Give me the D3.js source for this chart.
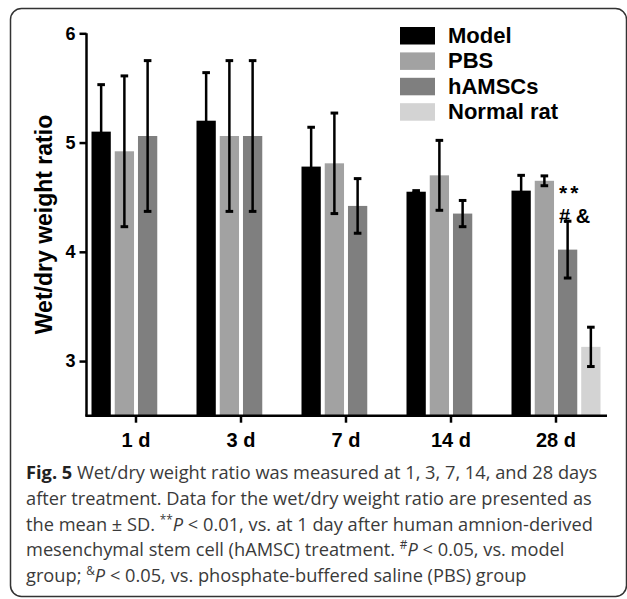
<!DOCTYPE html>
<html>
<head>
<meta charset="utf-8">
<script src="https://cdn.jsdelivr.net/npm/d3@7"></script>
<style>
    body { margin: 0; background: #fff; }
    .axis path, .axis line { stroke: #000; stroke-width: 2.5px; }
    .axis text { font-family: "Liberation Sans", Arial, sans-serif; font-weight: bold; fill: #000; }
</style>
</head>
<body>
<div id="chart"></div>
<script>
// Values
var days = ["1 d", "3 d", "7 d", "14 d", "28 d"];
var groups = ["Model", "PBS", "hAMSCs", "Normal rat"];
var modelMean = [5.10, 5.20, 4.78, 4.55, 4.56];
var modelSD = [0.43, 0.44, 0.36, 0.01, 0.14];
var pbsMean = [4.92, 5.06, 4.81, 4.70, 4.65];
var pbsSD = [0.69, 0.69, 0.46, 0.32, 0.045];
var hamscMean = [5.06, 5.06, 4.42, 4.35, 4.02];
var hamscSD = [0.69, 0.69, 0.25, 0.12, 0.26];
var normalMean = [null, null, null, null, 3.13];
var normalSD = [null, null, null, null, 0.18];
var yTicks = [3, 4, 5, 6];
var groupColors = ["#000000", "#a2a2a2", "#7f7f7f", "#d3d3d3"];

// Caption lines: [text, style]
var captionLines = [
    [["Fig. 5", "b"], [" Wet/dry weight ratio was measured at 1, 3, 7, 14, and 28 days", ""]],
    [["after treatment. Data for the wet/dry weight ratio are presented as", ""]],
    [["the mean \u00b1 SD. ", ""], ["**", "sup"], ["P", "i"], [" < 0.01, vs. at 1 day after human amnion-derived", ""]],
    [["mesenchymal stem cell (hAMSC) treatment. ", ""], ["#", "sup"], ["P", "i"], [" < 0.05, vs. model", ""]],
    [["group; ", ""], ["&", "sup"], ["P", "i"], [" < 0.05, vs. phosphate-buffered saline (PBS) group", ""]]
];
var captionWidths = [592, 531, 584, 542, 497];

var width = 627, height = 599;

var svg = d3.select("#chart")
    .append("svg")
    .attr("width", width)
    .attr("height", height);

// Rounded frame around figure and caption
svg.append("rect")
    .attr("x", 10.5).attr("y", 8.5)
    .attr("width", 616).attr("height", 588)
    .attr("rx", 11)
    .style("fill", "none")
    .style("stroke", "#333")
    .style("stroke-width", 1.5);

// Scales
var x0 = d3.scaleBand()
    .domain(days)
    .range([83.5, 608.5]);

var x1 = d3.scaleBand()
    .domain(groups)
    .range([8, 97])
    .paddingInner(0.17);

var y = d3.scaleLinear()
    .domain([2.5, 6])
    .range([415.7, 33.3]);

// Build rows: one per day and group
var means = [modelMean, pbsMean, hamscMean, normalMean];
var sds = [modelSD, pbsSD, hamscSD, normalSD];
var rows = [];
days.forEach(function(d, i) {
    groups.forEach(function(g, j) {
        if (means[j][i] != null) {
            rows.push({ day: d, group: g, idx: j, mean: means[j][i], sd: sds[j][i] });
        }
    });
});

var plot = svg.append("g");

// Bars
plot.selectAll(".bar")
    .data(rows)
    .enter()
    .append("rect")
    .attr("class", "bar")
    .attr("x", function(d) { return x0(d.day) + x1(d.group); })
    .attr("width", x1.bandwidth())
    .attr("y", function(d) { return y(d.mean); })
    .attr("height", function(d) { return y(2.5) - y(d.mean); })
    .style("fill", function(d) { return groupColors[d.idx]; });

// Error bars
var err = plot.selectAll(".err")
    .data(rows)
    .enter()
    .append("g")
    .attr("class", "err")
    .attr("transform", function(d) { return "translate(" + (x0(d.day) + x1(d.group) + x1.bandwidth() / 2) + ",0)"; });

err.append("line")
    .attr("y1", function(d) { return y(d.mean + d.sd); })
    .attr("y2", function(d) { return y(d.mean - d.sd); })
    .style("stroke", "#000")
    .style("stroke-width", 2.5);

err.selectAll(".cap")
    .data(function(d) { return [d.mean + d.sd, d.mean - d.sd]; })
    .enter()
    .append("line")
    .attr("class", "cap")
    .attr("x1", -3.8).attr("x2", 3.8)
    .attr("y1", function(v) { return y(v); })
    .attr("y2", function(v) { return y(v); })
    .style("stroke", "#000")
    .style("stroke-width", 3);

// Axes
var yAxis = svg.append("g")
    .attr("class", "axis")
    .attr("transform", "translate(86.5,0)")
    .call(d3.axisLeft(y).tickValues(yTicks).tickSize(7).tickSizeOuter(0).tickPadding(4).tickFormat(d3.format("d")));
yAxis.select(".domain").attr("d", "M0," + y(6) + "V" + y(2.5));
yAxis.selectAll("text").style("font-size", "18px");

var xAxis = svg.append("g")
    .attr("class", "axis")
    .attr("transform", "translate(0," + y(2.5) + ")")
    .call(d3.axisBottom(x0).tickSize(7).tickSizeOuter(0).tickPadding(10));
xAxis.select(".domain").attr("d", "M85.3,0H607");
xAxis.selectAll("text").style("font-size", "20px");

// Y axis title
svg.append("text")
    .attr("transform", "translate(52,224.5) rotate(-90)")
    .attr("text-anchor", "middle")
    .style("font-family", "'Liberation Sans', Arial, sans-serif")
    .style("font-weight", "bold")
    .style("font-size", "23px")
    .text("Wet/dry weight ratio");

// Significance marks above the 28 d hAMSCs bar
var markX = x0("28 d") + x1("hAMSCs") + 1;
svg.append("text")
    .attr("x", markX).attr("y", 200)
    .style("font-family", "'Liberation Sans', Arial, sans-serif")
    .style("font-weight", "bold")
    .style("font-size", "21px")
    .style("letter-spacing", "3px")
    .text("**");
svg.append("text")
    .attr("x", markX).attr("y", 223)
    .style("font-family", "'Liberation Sans', Arial, sans-serif")
    .style("font-weight", "bold")
    .style("font-size", "20px")
    .text("# &");

// Legend
var legend = svg.selectAll(".legend")
    .data(groups)
    .enter()
    .append("g")
    .attr("class", "legend")
    .attr("transform", function(d, i) { return "translate(400," + (27 + i * 25.4) + ")"; });

legend.append("rect")
    .attr("width", 35)
    .attr("height", 17.5)
    .style("fill", function(d, i) { return groupColors[i]; });

legend.append("text")
    .attr("x", 48)
    .attr("y", 16)
    .style("font-family", "'Liberation Sans', Arial, sans-serif")
    .style("font-weight", "bold")
    .style("font-size", "22px")
    .text(function(d) { return d; });

// Caption
var caption = svg.append("g");
var capText = caption.selectAll(".cap-line")
    .data(captionLines)
    .enter()
    .append("text")
    .attr("class", "cap-line")
    .attr("x", 0)
    .attr("y", function(d, i) { return 479 + i * 25.8; })
    .style("font-family", "'Open Sans', sans-serif")
    .style("font-size", "18.5px")
    .style("fill", "#3a3a3a");

capText.each(function(line) {
    var t = d3.select(this);
    var shifted = false;
    line.forEach(function(seg) {
        var sp = t.append("tspan").text(seg[0]);
        if (seg[1] === "b") sp.style("font-weight", "bold").style("fill", "#222");
        if (seg[1] === "i") sp.style("font-style", "italic");
        if (seg[1] === "sup") {
            sp.attr("dy", -7).style("font-size", "12px");
            shifted = true;
        } else if (shifted) {
            sp.attr("dy", 7);
            shifted = false;
        }
    });
});

// Squeeze caption horizontally to match the narrower original type
var ratios = [];
capText.each(function(d, i) { ratios.push(captionWidths[i] / this.getComputedTextLength()); });
var sx = d3.mean(ratios);
caption.attr("transform", "translate(26,0) scale(" + sx + ",1)");
</script>
</body>
</html>
